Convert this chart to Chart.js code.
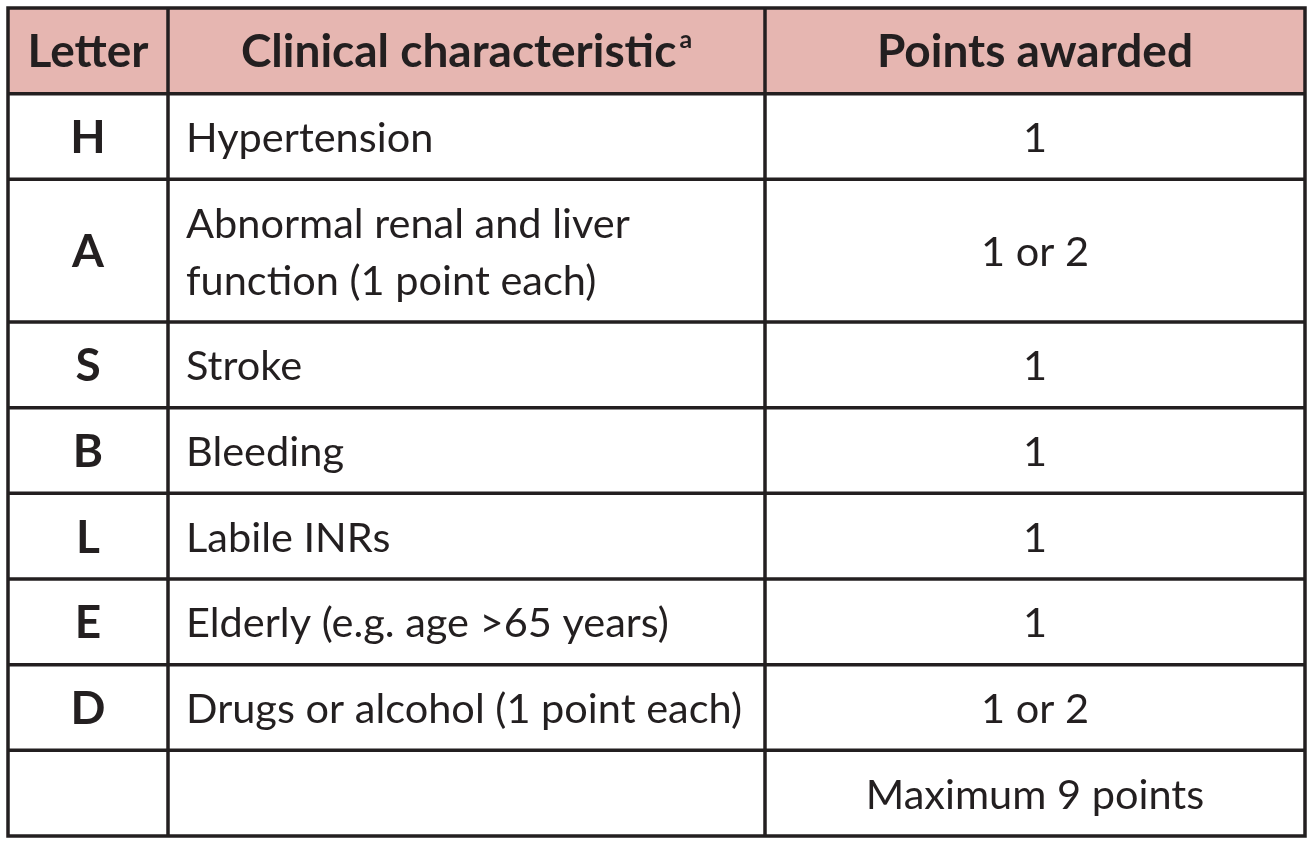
<!DOCTYPE html>
<html>
<head>
<meta charset="utf-8">
<script src="https://cdn.jsdelivr.net/npm/chart.js@4/dist/chart.umd.min.js"></script>
<style>
  body { margin: 0; background: #ffffff; }
  canvas { display: block; }
</style>
</head>
<body>
<canvas id="hasbled" width="1316" height="845"></canvas>
<script>
// table content
var headers = ['Letter', 'Clinical characteristic', 'Points awarded'];
var headerNote = 'a';
var letters = ['H', 'A', 'S', 'B', 'L', 'E', 'D', ''];
var characteristics = [
    ['Hypertension'],
    ['Abnormal renal and liver', 'function (1 point each)'],
    ['Stroke'],
    ['Bleeding'],
    ['Labile INRs'],
    ['Elderly (e.g. age >65 years)'],
    ['Drugs or alcohol (1 point each)'],
    ['']
];
var points = ['1', '1 or 2', '1', '1', '1', '1', '1 or 2', 'Maximum 9 points'];

// look
var ink = '#231f20';
var headFill = '#e6b6b1';
var fontSize = 41.5;
var boldSize = 46;
var fontFace = 'Lato, "Open Sans", sans-serif';
var lineGap = 57;
var colWidths = [160, 597, 540];

// column edges and row edges in table units
var colEdges = [0];
for (var i = 0; i < colWidths.length; i++) colEdges.push(colEdges[i] + colWidths[i]);
function rowHeight(lines) { return 28.7 + lineGap * lines; }
var rowEdges = [0, rowHeight(1)];
for (var r = 0; r < characteristics.length; r++) {
    rowEdges.push(rowEdges[rowEdges.length - 1] + rowHeight(characteristics[r].length));
}

// one anchor point per cell, the plugin draws the cell from the scales
var cellPoints = [];
for (var r = 0; r < rowEdges.length - 1; r++) {
    for (var c = 0; c < colWidths.length; c++) {
        cellPoints.push({ x: (colEdges[c] + colEdges[c + 1]) / 2, y: (rowEdges[r] + rowEdges[r + 1]) / 2, row: r, col: c });
    }
}

var tablePlugin = {
    id: 'tableCells',
    beforeDatasetsDraw: function (chart) {
        var ctx = chart.ctx;
        var xs = chart.scales.x, ys = chart.scales.y;
        var X = function (v) { return xs.getPixelForValue(v); };
        var Y = function (v) { return ys.getPixelForValue(v); };
        var left = X(colEdges[0]), right = X(colEdges[colEdges.length - 1]);
        var top = Y(rowEdges[0]), bottom = Y(rowEdges[rowEdges.length - 1]);
        var cap = fontSize * 0.74;
        var capB = boldSize * 0.72;
        var bold = 'bold ' + boldSize + 'px ' + fontFace;
        var plain = fontSize + 'px ' + fontFace;

        ctx.save();
        ctx.fillStyle = headFill;
        ctx.fillRect(left, top, right - left, Y(rowEdges[1]) - top);

        ctx.fillStyle = ink;
        ctx.textBaseline = 'alphabetic';
        chart.getDatasetMeta(0).data.forEach(function (el, k) {
            var p = cellPoints[k];
            var cx = el.x, cy = el.y;
            if (p.row === 0) {
                ctx.font = bold;
                var txt = headers[p.col];
                if (p.col === 1) {
                    var w1 = ctx.measureText(txt).width;
                    ctx.font = 'bold ' + Math.round(boldSize * 0.55) + 'px ' + fontFace;
                    var w2 = ctx.measureText(headerNote).width;
                    var sx = cx - (w1 + w2 + 3) / 2;
                    ctx.textAlign = 'left';
                    ctx.fillText(headerNote, sx + w1 + 3, cy + capB / 2 - capB * 0.6);
                    ctx.font = bold;
                    ctx.fillText(txt, sx, cy + capB / 2);
                } else {
                    ctx.textAlign = 'center';
                    ctx.fillText(txt, cx, cy + capB / 2);
                }
                return;
            }
            var i = p.row - 1;
            if (p.col === 0) {
                ctx.font = bold;
                ctx.textAlign = 'center';
                ctx.fillText(letters[i], cx, cy + capB / 2);
            } else if (p.col === 1) {
                ctx.font = plain;
                ctx.textAlign = 'left';
                var lines = characteristics[i];
                var x0 = X(colEdges[1]) + 18;
                for (var n = 0; n < lines.length; n++) {
                    var off = (n - (lines.length - 1) / 2) * lineGap;
                    ctx.fillText(lines[n], x0, cy + cap / 2 + off);
                }
            } else {
                ctx.font = plain;
                ctx.textAlign = 'center';
                ctx.fillText(points[i], cx, cy + cap / 2);
            }
        });

        // grid
        ctx.strokeStyle = ink;
        ctx.lineWidth = 3.5;
        ctx.beginPath();
        rowEdges.forEach(function (v) {
            ctx.moveTo(left - 1.75, Y(v));
            ctx.lineTo(right + 1.75, Y(v));
        });
        colEdges.forEach(function (v) {
            ctx.moveTo(X(v), top);
            ctx.lineTo(X(v), bottom);
        });
        ctx.stroke();
        ctx.restore();
    }
};

var chart = new Chart(document.getElementById('hasbled'), {
    type: 'scatter',
    data: {
        datasets: [{
            label: 'cells',
            data: cellPoints,
            pointRadius: 0,
            pointHoverRadius: 0
        }]
    },
    options: {
        responsive: false,
        animation: false,
        events: [],
        layout: { padding: { left: 8, right: 11, top: 8, bottom: 9 } },
        plugins: { legend: { display: false }, tooltip: { enabled: false } },
        scales: {
            x: { type: 'linear', display: false, min: colEdges[0], max: colEdges[colEdges.length - 1] },
            y: { type: 'linear', display: false, reverse: true, min: rowEdges[0], max: rowEdges[rowEdges.length - 1] }
        }
    },
    plugins: [tablePlugin]
});
</script>
</body>
</html>
